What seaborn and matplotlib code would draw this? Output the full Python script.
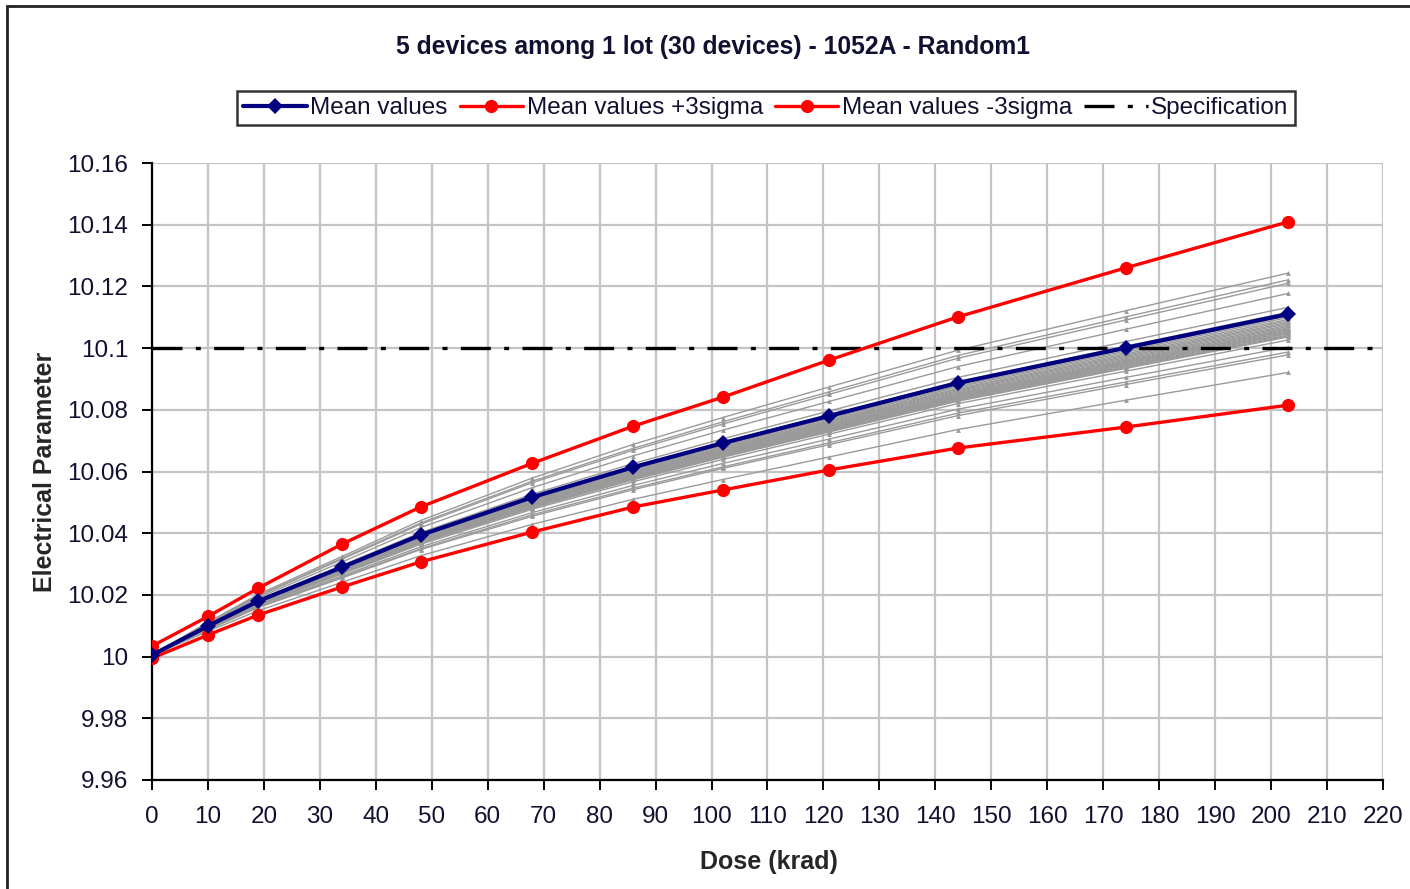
import matplotlib
matplotlib.use("Agg")
import matplotlib.pyplot as plt
from matplotlib.patches import Rectangle
import seaborn as sns
import pandas as pd

# ---------------- data ----------------
dose = [0, 10, 19, 34, 48, 68, 86, 102, 121, 144, 174, 203]
mean_values = [10.0005, 10.0099, 10.0180, 10.0290, 10.0394, 10.0517, 10.0614,
               10.0692, 10.0780, 10.0887, 10.1001, 10.1110]
plus_3sigma = [10.0034, 10.0130, 10.0222, 10.0365, 10.0485, 10.0627, 10.0747,
               10.0841, 10.0961, 10.1101, 10.1260, 10.1409]
minus_3sigma = [9.9995, 10.0070, 10.0135, 10.0226, 10.0307, 10.0404, 10.0485,
                10.0540, 10.0605, 10.0676, 10.0744, 10.0815]
specification = 10.1

devices = [
    [10.0006, 10.0111, 10.0202, 10.0325, 10.0441, 10.0579, 10.0688, 10.0775, 10.0874, 10.0993, 10.1121, 10.1243],
    [10.0005, 10.0109, 10.0198, 10.0319, 10.0433, 10.0569, 10.0675, 10.0761, 10.0858, 10.0976, 10.1101, 10.1221],
    [10.0005, 10.0108, 10.0196, 10.0316, 10.0429, 10.0564, 10.0669, 10.0754, 10.0850, 10.0967, 10.1091, 10.1210],
    [10.0005, 10.0105, 10.0191, 10.0307, 10.0418, 10.0548, 10.0651, 10.0734, 10.0827, 10.0940, 10.1061, 10.1177],
    [10.0005, 10.0101, 10.0184, 10.0296, 10.0402, 10.0527, 10.0626, 10.0706, 10.0796, 10.0905, 10.1021, 10.1132],
    [10.0005, 10.0100, 10.0181, 10.0291, 10.0396, 10.0520, 10.0617, 10.0695, 10.0784, 10.0891, 10.1006, 10.1116],
    [10.0005, 10.0099, 10.0180, 10.0290, 10.0394, 10.0517, 10.0614, 10.0692, 10.0780, 10.0887, 10.1001, 10.1110],
    [10.0005, 10.0098, 10.0179, 10.0289, 10.0392, 10.0514, 10.0611, 10.0689, 10.0776, 10.0883, 10.0996, 10.1104],
    [10.0005, 10.0098, 10.0178, 10.0287, 10.0390, 10.0512, 10.0608, 10.0685, 10.0772, 10.0878, 10.0991, 10.1099],
    [10.0005, 10.0097, 10.0177, 10.0286, 10.0388, 10.0509, 10.0605, 10.0682, 10.0768, 10.0874, 10.0986, 10.1093],
    [10.0005, 10.0097, 10.0176, 10.0284, 10.0386, 10.0507, 10.0602, 10.0678, 10.0764, 10.0869, 10.0981, 10.1088],
    [10.0005, 10.0097, 10.0176, 10.0283, 10.0385, 10.0505, 10.0599, 10.0675, 10.0761, 10.0866, 10.0977, 10.1083],
    [10.0005, 10.0096, 10.0175, 10.0282, 10.0383, 10.0503, 10.0597, 10.0673, 10.0758, 10.0862, 10.0973, 10.1079],
    [10.0005, 10.0096, 10.0174, 10.0281, 10.0381, 10.0500, 10.0594, 10.0670, 10.0755, 10.0859, 10.0969, 10.1074],
    [10.0005, 10.0095, 10.0174, 10.0280, 10.0380, 10.0498, 10.0592, 10.0667, 10.0752, 10.0855, 10.0965, 10.1070],
    [10.0005, 10.0095, 10.0173, 10.0278, 10.0378, 10.0496, 10.0589, 10.0664, 10.0749, 10.0852, 10.0961, 10.1066],
    [10.0005, 10.0095, 10.0172, 10.0278, 10.0377, 10.0495, 10.0588, 10.0662, 10.0746, 10.0849, 10.0958, 10.1062],
    [10.0005, 10.0094, 10.0172, 10.0277, 10.0376, 10.0493, 10.0586, 10.0660, 10.0744, 10.0846, 10.0955, 10.1059],
    [10.0005, 10.0094, 10.0171, 10.0276, 10.0375, 10.0492, 10.0584, 10.0658, 10.0742, 10.0844, 10.0952, 10.1056],
    [10.0005, 10.0094, 10.0171, 10.0275, 10.0374, 10.0490, 10.0582, 10.0656, 10.0739, 10.0841, 10.0949, 10.1052],
    [10.0005, 10.0094, 10.0170, 10.0274, 10.0372, 10.0489, 10.0580, 10.0654, 10.0737, 10.0838, 10.0946, 10.1049],
    [10.0005, 10.0093, 10.0170, 10.0273, 10.0371, 10.0487, 10.0578, 10.0652, 10.0735, 10.0836, 10.0943, 10.1046],
    [10.0005, 10.0093, 10.0169, 10.0272, 10.0370, 10.0485, 10.0577, 10.0650, 10.0732, 10.0833, 10.0940, 10.1042],
    [10.0005, 10.0093, 10.0168, 10.0271, 10.0369, 10.0484, 10.0575, 10.0648, 10.0730, 10.0830, 10.0937, 10.1039],
    [10.0005, 10.0092, 10.0168, 10.0271, 10.0368, 10.0482, 10.0573, 10.0646, 10.0728, 10.0828, 10.0934, 10.1036],
    [10.0005, 10.0091, 10.0166, 10.0268, 10.0364, 10.0478, 10.0567, 10.0639, 10.0721, 10.0820, 10.0925, 10.1026],
    [10.0005, 10.0090, 10.0163, 10.0262, 10.0356, 10.0467, 10.0555, 10.0626, 10.0705, 10.0802, 10.0905, 10.1003],
    [10.0004, 10.0088, 10.0160, 10.0258, 10.0350, 10.0460, 10.0546, 10.0615, 10.0693, 10.0789, 10.0890, 10.0987],
    [10.0004, 10.0087, 10.0159, 10.0255, 10.0347, 10.0455, 10.0541, 10.0610, 10.0687, 10.0781, 10.0882, 10.0978],
    [10.0004, 10.0082, 10.0149, 10.0241, 10.0327, 10.0429, 10.0510, 10.0574, 10.0647, 10.0736, 10.0831, 10.0921],
]

title = "5 devices among 1 lot (30 devices) - 1052A - Random1"
x_label = "Dose (krad)"
y_label = "Electrical Parameter"
x_ticks = list(range(0, 221, 10))
y_ticks = [9.96, 9.98, 10.0, 10.02, 10.04, 10.06, 10.08, 10.1, 10.12, 10.14, 10.16]
y_tick_labels = ["9.96", "9.98", "10", "10.02", "10.04", "10.06", "10.08",
                 "10.1", "10.12", "10.14", "10.16"]

# ---------------- build frames ----------------
dev_df = pd.DataFrame(
    [(d, v, i) for i, row in enumerate(devices) for d, v in zip(dose, row)],
    columns=["dose", "value", "device"],
)
stat_df = pd.DataFrame({"dose": dose, "mean": mean_values,
                        "plus": plus_3sigma, "minus": minus_3sigma})

# ---------------- style ----------------
sns.set_theme(style="white")
plt.rcParams["font.family"] = ["Liberation Sans", "DejaVu Sans"]

fig = plt.figure(figsize=(14.10, 8.89), dpi=100)
ax = fig.add_axes([152 / 1410, 1 - 780 / 889, (1383 - 152) / 1410, (780 - 163) / 889])

ax.set_xlim(0, 220)
ax.set_ylim(9.96, 10.16)
ax.set_xticks(x_ticks)
ax.set_yticks(y_ticks)
ax.set_yticklabels(y_tick_labels)
ax.grid(True, color="#c4c4c4", linewidth=1.6, zorder=0)
ax.set_axisbelow(True)

for s in ["top", "right"]:
    ax.spines[s].set_visible(False)
for s in ["left", "bottom"]:
    ax.spines[s].set_color("black")
    ax.spines[s].set_linewidth(1.6)

ax.tick_params(axis="both", which="major", direction="out", length=7, width=1.4,
               color="black", labelsize=17.5, labelcolor="#101030",
               left=True, bottom=True)
ax.tick_params(axis="x", pad=12)
ax.tick_params(axis="y", pad=10)

# individual devices (grey)
sns.lineplot(data=dev_df, x="dose", y="value", units="device", estimator=None,
             color="#9a9a9a", linewidth=1.0, marker="^", markersize=3.5,
             markeredgewidth=0, legend=False, ax=ax, zorder=2)

# specification
ax.axhline(specification, color="black", linewidth=2.4,
           linestyle=(0, (9, 4, 1.5, 4)), label="Specification", zorder=3)

# statistics
sns.lineplot(data=stat_df, x="dose", y="mean", color="#000080", linewidth=3.0,
             marker="D", markersize=8.5, markeredgewidth=0, label="Mean values",
             ax=ax, zorder=5)
sns.lineplot(data=stat_df, x="dose", y="plus", color="#ff0000", linewidth=2.4,
             marker="o", markersize=9.5, markeredgewidth=0,
             label="Mean values +3sigma", ax=ax, zorder=4)
sns.lineplot(data=stat_df, x="dose", y="minus", color="#ff0000", linewidth=2.4,
             marker="o", markersize=9.5, markeredgewidth=0,
             label="Mean values -3sigma", ax=ax, zorder=4)

ax.set_xlabel(x_label, fontsize=18, fontweight="bold")
ax.set_ylabel(y_label, fontsize=18, fontweight="bold")
ax.xaxis.set_label_coords(0.501, -0.113)
ax.yaxis.set_label_coords(-0.077, 0.5)

# legend
handles, labels = ax.get_legend_handles_labels()
order = ["Mean values", "Mean values +3sigma", "Mean values -3sigma", "Specification"]
hmap = dict(zip(labels, handles))
leg = ax.legend([hmap[k] for k in order], order, ncol=4, loc="center",
                bbox_to_anchor=(766 / 1410, 1 - 108 / 889),
                bbox_transform=fig.transFigure, fontsize=17.5,
                frameon=True, fancybox=False, shadow=False,
                handlelength=2.6, handletextpad=0.15, columnspacing=0.5,
                borderpad=0.25, borderaxespad=0)
leg.get_frame().set_edgecolor("black")
leg.get_frame().set_linewidth(1.8)
for t in leg.get_texts():
    t.set_color("#101030")

fig.text(713 / 1410, 1 - 47 / 889, title, ha="center", va="center",
         fontsize=17.8, fontweight="bold", color="#101030")

# outer chart border (partially cropped like the reference)
fig.patches.append(Rectangle((7 / 1410, -0.05), 1.2, 1 - 6 / 889 + 0.05,
                             transform=fig.transFigure, fill=False,
                             edgecolor="#222222", linewidth=2.0))

fig.savefig("out.png", dpi=100)
